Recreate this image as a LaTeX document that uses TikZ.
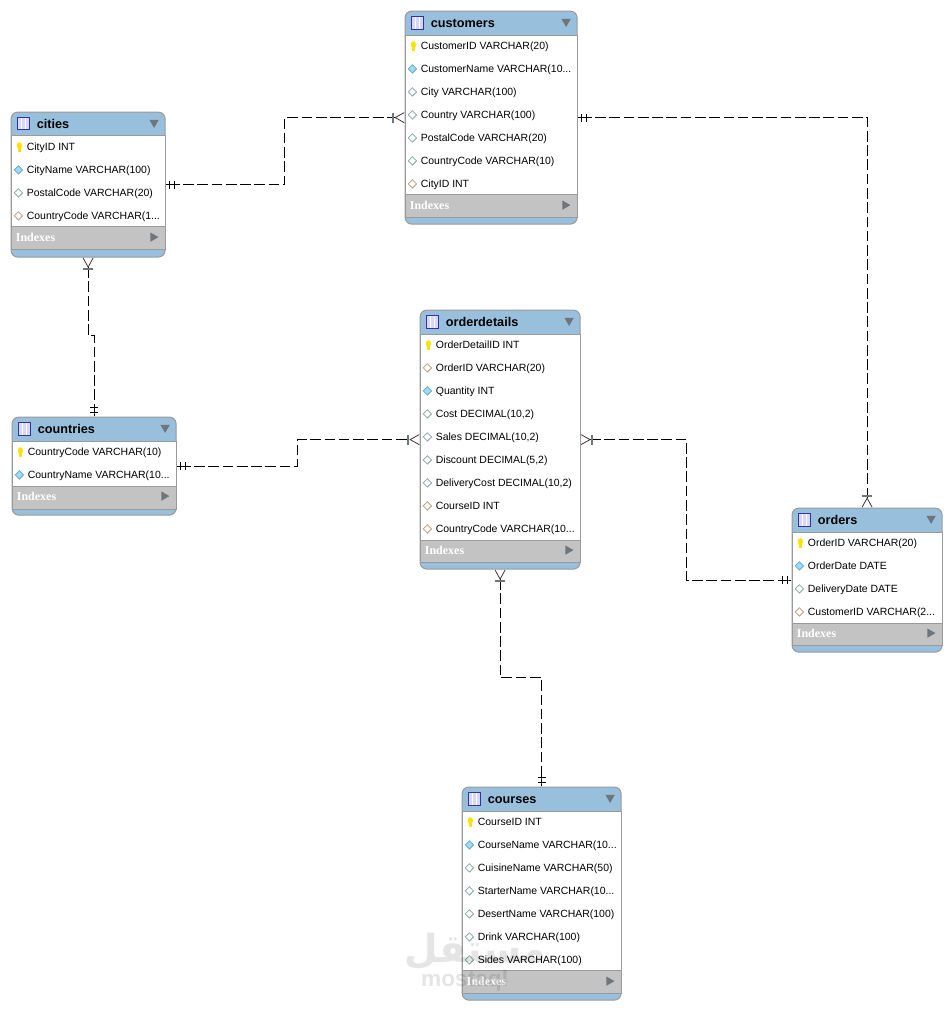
\documentclass[tikz,border=0pt]{standalone}
\usepackage{fontspec}
\setmainfont{Liberation Sans}
\newfontfamily\indexfont{Liberation Serif}
\newfontfamily\arabicfont[Script=Arabic]{DejaVu Sans}
\TeXXeTstate=1
\usetikzlibrary{positioning,shapes.geometric,arrows.meta}
\definecolor{headblue}{HTML}{98BFDB}
\definecolor{idxgray}{HTML}{C3C3C3}
\definecolor{edgegray}{HTML}{9A9A9A}
\definecolor{markgray}{HTML}{6E767B}
\definecolor{barbred}{HTML}{4A3030}
\tikzset{
  tablebox/.style={draw=edgegray, fill=headblue, rounded corners=5pt, anchor=north west, line width=.75pt, inner sep=0pt},
  bodybox/.style={draw=edgegray, fill=white, anchor=north west, line width=.75pt, inner sep=0pt},
  idxbox/.style={draw=edgegray, fill=idxgray, anchor=north west, line width=.75pt, inner sep=0pt},
  titletext/.style={anchor=west, inner sep=0pt, font=\fontsize{9.5}{11}\selectfont\bfseries, text height=7pt, text depth=2pt},
  idxtext/.style={anchor=west, inner sep=0pt, text=white, font=\indexfont\fontsize{9}{11}\selectfont\bfseries, text height=7pt, text depth=2pt},
  tableicon/.style={draw=blue!55!black!80, fill=blue!16, line width=.75pt, minimum width=9pt, minimum height=9.5pt, inner sep=0pt,
    path picture={\draw[white, line width=.4pt] (path picture bounding box.north)++(-1.6pt,0) -- ++(0,-10pt) ++(3.2pt,10pt) -- ++(0,-10pt);}},
  downmark/.style={regular polygon, regular polygon sides=3, shape border rotate=180, fill=markgray, minimum size=8pt, inner sep=0pt},
  rightmark/.style={regular polygon, regular polygon sides=3, shape border rotate=270, fill=markgray, minimum size=8pt, inner sep=0pt},
  rowtext/.style={anchor=west, inner sep=0pt, font=\fontsize{7.85}{10}\selectfont, text height=8pt, text depth=2pt},
  nextrow/.style={below=of #1.west, anchor=west},
  keyhead/.style={ellipse, fill=yellow!85!orange, minimum width=4pt, minimum height=5pt, inner sep=0pt},
  keystem/.style={fill=yellow!85!orange, minimum width=1.8pt, minimum height=5pt, inner sep=0pt},
  fullicon/.style={diamond, draw=cyan!45!gray, fill=cyan!40, line width=.6pt, minimum size=6.5pt, inner sep=0pt},
  openicon/.style={diamond, draw=teal!40!gray!70, fill=white, line width=.6pt, minimum size=6.5pt, inner sep=0pt},
  fkicon/.style={diamond, draw=brown!60!gray!80, fill=white, line width=.6pt, minimum size=6.5pt, inner sep=0pt},
  keyrow/.style={rowtext, label={[keystem, label distance=4.2pt, yshift=-1.5pt]left:{}}, label={[keyhead, label distance=3.2pt, yshift=1pt]left:{}}},
  fullrow/.style={rowtext, label={[fullicon, label distance=2.6pt]left:{}}},
  openrow/.style={rowtext, label={[openicon, label distance=2.6pt]left:{}}},
  fkrow/.style={rowtext, label={[fkicon, label distance=2.6pt]left:{}}},
  onemark/.tip={Rectangle[length=1.8pt,width=.75pt] Bar[width=6pt,line width=.75pt] Rectangle[length=3pt,width=.75pt] Bar[width=6pt,line width=.75pt] Rectangle[length=2.8pt,width=.75pt]},
  crowmark/.tip={Bar[width=7.5pt,line width=1.5pt,color=markgray] Straight Barb[reversed,length=6.8pt,width=7.5pt,line width=.6pt,color=barbred]},
  rel/.style={line width=.75pt, dash pattern=on 8pt off 2.7pt},
}
\begin{document}
\begin{tikzpicture}[x=.75pt, y=-.75pt, node distance=17.25pt]
  \useasboundingbox (.4,.4) rectangle (952.4,1010.4);

  % cities
  \node[tablebox, minimum width=154*.75pt, minimum height=145*.75pt] (cities) at (11,112) {};
  \node[bodybox, minimum width=154*.75pt, minimum height=91*.75pt] (citiesbody) at (11,135) {};
  \node[idxbox, minimum width=154*.75pt, minimum height=23*.75pt] (citiesidx) at (11,226) {};
  \node[tableicon] (citiesicon) at (24,124) {};
  \node[titletext] (citiestitle) at (37,125.5) {cities};
  \node[downmark] (citiesdown) at (154.5,123) {};
  \node[idxtext] (citiesidxtext) at (16,238.5) {Indexes};
  \node[rightmark] (citiesright) at (153.5,237.5) {};
  \node[keyrow] (cities1) at (27,147.3) {CityID INT};
  \node[fullrow, nextrow=cities1] (cities2) {CityName VARCHAR(100)};
  \node[openrow, nextrow=cities2] (cities3) {PostalCode VARCHAR(20)};
  \node[fkrow, nextrow=cities3] (cities4) {CountryCode VARCHAR(1...};

  % customers
  \node[tablebox, minimum width=172*.75pt, minimum height=213*.75pt] (customers) at (405,11) {};
  \node[bodybox, minimum width=172*.75pt, minimum height=159*.75pt] (customersbody) at (405,35) {};
  \node[idxbox, minimum width=172*.75pt, minimum height=23*.75pt] (customersidx) at (405,194) {};
  \node[tableicon] (customersicon) at (418,23.5) {};
  \node[titletext] (customerstitle) at (431,24.5) {customers};
  \node[downmark] (customersdown) at (566.5,22) {};
  \node[idxtext] (customersidxtext) at (410,206.5) {Indexes};
  \node[rightmark] (customersright) at (565.5,205.5) {};
  \node[keyrow] (customers1) at (421,46.3) {CustomerID VARCHAR(20)};
  \node[fullrow, nextrow=customers1] (customers2) {CustomerName VARCHAR(10...};
  \node[openrow, nextrow=customers2] (customers3) {City VARCHAR(100)};
  \node[openrow, nextrow=customers3] (customers4) {Country VARCHAR(100)};
  \node[openrow, nextrow=customers4] (customers5) {PostalCode VARCHAR(20)};
  \node[openrow, nextrow=customers5] (customers6) {CountryCode VARCHAR(10)};
  \node[fkrow, nextrow=customers6] (customers7) {CityID INT};

  % orderdetails
  \node[tablebox, minimum width=160*.75pt, minimum height=259*.75pt] (orderdetails) at (420,310) {};
  \node[bodybox, minimum width=160*.75pt, minimum height=206*.75pt] (orderdetailsbody) at (420,334) {};
  \node[idxbox, minimum width=160*.75pt, minimum height=22*.75pt] (orderdetailsidx) at (420,540) {};
  \node[tableicon] (orderdetailsicon) at (433,322.5) {};
  \node[titletext] (orderdetailstitle) at (446,323.5) {orderdetails};
  \node[downmark] (orderdetailsdown) at (569.5,321) {};
  \node[idxtext] (orderdetailsidxtext) at (425,551.5) {Indexes};
  \node[rightmark] (orderdetailsright) at (568.5,550.5) {};
  \node[keyrow] (orderdetails1) at (436,345.3) {OrderDetailID INT};
  \node[fkrow, nextrow=orderdetails1] (orderdetails2) {OrderID VARCHAR(20)};
  \node[fullrow, nextrow=orderdetails2] (orderdetails3) {Quantity INT};
  \node[openrow, nextrow=orderdetails3] (orderdetails4) {Cost DECIMAL(10,2)};
  \node[openrow, nextrow=orderdetails4] (orderdetails5) {Sales DECIMAL(10,2)};
  \node[openrow, nextrow=orderdetails5] (orderdetails6) {Discount DECIMAL(5,2)};
  \node[openrow, nextrow=orderdetails6] (orderdetails7) {DeliveryCost DECIMAL(10,2)};
  \node[fkrow, nextrow=orderdetails7] (orderdetails8) {CourseID INT};
  \node[fkrow, nextrow=orderdetails8] (orderdetails9) {CountryCode VARCHAR(10...};

  % countries
  \node[tablebox, minimum width=164*.75pt, minimum height=98*.75pt] (countries) at (12,417) {};
  \node[bodybox, minimum width=164*.75pt, minimum height=45*.75pt] (countriesbody) at (12,441) {};
  \node[idxbox, minimum width=164*.75pt, minimum height=23*.75pt] (countriesidx) at (12,486) {};
  \node[tableicon] (countriesicon) at (25,429.5) {};
  \node[titletext] (countriestitle) at (38,430.5) {countries};
  \node[downmark] (countriesdown) at (165.5,428) {};
  \node[idxtext] (countriesidxtext) at (17,497.5) {Indexes};
  \node[rightmark] (countriesright) at (164.5,496.5) {};
  \node[keyrow] (countries1) at (28,452.3) {CountryCode VARCHAR(10)};
  \node[fullrow, nextrow=countries1] (countries2) {CountryName VARCHAR(10...};

  % orders
  \node[tablebox, minimum width=150*.75pt, minimum height=144*.75pt] (orders) at (792,508) {};
  \node[bodybox, minimum width=150*.75pt, minimum height=91*.75pt] (ordersbody) at (792,532) {};
  \node[idxbox, minimum width=150*.75pt, minimum height=22*.75pt] (ordersidx) at (792,623) {};
  \node[tableicon] (ordersicon) at (805,520.5) {};
  \node[titletext] (orderstitle) at (818,521.5) {orders};
  \node[downmark] (ordersdown) at (931.5,519) {};
  \node[idxtext] (ordersidxtext) at (797,634.5) {Indexes};
  \node[rightmark] (ordersright) at (930.5,633.5) {};
  \node[keyrow] (orders1) at (808,543.3) {OrderID VARCHAR(20)};
  \node[fullrow, nextrow=orders1] (orders2) {OrderDate DATE};
  \node[openrow, nextrow=orders2] (orders3) {DeliveryDate DATE};
  \node[fkrow, nextrow=orders3] (orders4) {CustomerID VARCHAR(2...};

  % courses
  \node[tablebox, minimum width=159*.75pt, minimum height=213*.75pt] (courses) at (462,787) {};
  \node[bodybox, minimum width=159*.75pt, minimum height=159*.75pt] (coursesbody) at (462,811) {};
  \node[idxbox, minimum width=159*.75pt, minimum height=23*.75pt] (coursesidx) at (462,970) {};
  \node[tableicon] (coursesicon) at (475,799.5) {};
  \node[titletext] (coursestitle) at (488,800.5) {courses};
  \node[downmark] (coursesdown) at (610.5,798) {};
  \node[idxtext] (coursesidxtext) at (467,982.5) {Indexes};
  \node[rightmark] (coursesright) at (609.5,981.5) {};
  \node[keyrow] (courses1) at (478,822.3) {CourseID INT};
  \node[fullrow, nextrow=courses1] (courses2) {CourseName VARCHAR(10...};
  \node[openrow, nextrow=courses2] (courses3) {CuisineName VARCHAR(50)};
  \node[openrow, nextrow=courses3] (courses4) {StarterName VARCHAR(10...};
  \node[openrow, nextrow=courses4] (courses5) {DesertName VARCHAR(100)};
  \node[openrow, nextrow=courses5] (courses6) {Drink VARCHAR(100)};
  \node[openrow, nextrow=courses6] (courses7) {Sides VARCHAR(100)};

  % Bends
  \coordinate (jogA) at (285,150);
  \coordinate (jogB) at (90,336);
  \coordinate (jogC) at (298,450);
  \coordinate (jogD) at (687,500);
  \coordinate (jogE) at (520,678);

  % Relations
  \draw[rel, {onemark}-{crowmark}] (cities.east) -| (jogA) |- (customers.west);
  \draw[rel, {crowmark}-{onemark}] (cities.south) |- (jogB) -| (countries.north);
  \draw[rel, {onemark}-{crowmark}] (countries.east) -| (jogC) |- (orderdetails.west);
  \draw[rel, {onemark}-{crowmark}] (customers.east) -| (orders.north);
  \draw[rel, {crowmark}-{onemark}] (orderdetails.east) -| (jogD) |- (orders.west);
  \draw[rel, {crowmark}-{onemark}] (orderdetails.south) |- (jogE) -| (courses.north);

  % Watermark
  \node[opacity=.1, text=black, inner sep=0pt, font=\arabicfont\fontsize{29}{31}\selectfont\bfseries] (markar) at (476,952) {\beginR مستقل\endR};
  \node[opacity=.1, text=black, inner sep=0pt, font=\fontsize{17}{19}\selectfont\bfseries] (marken) at (465,981) {mostaql};

\end{tikzpicture}
\end{document}
